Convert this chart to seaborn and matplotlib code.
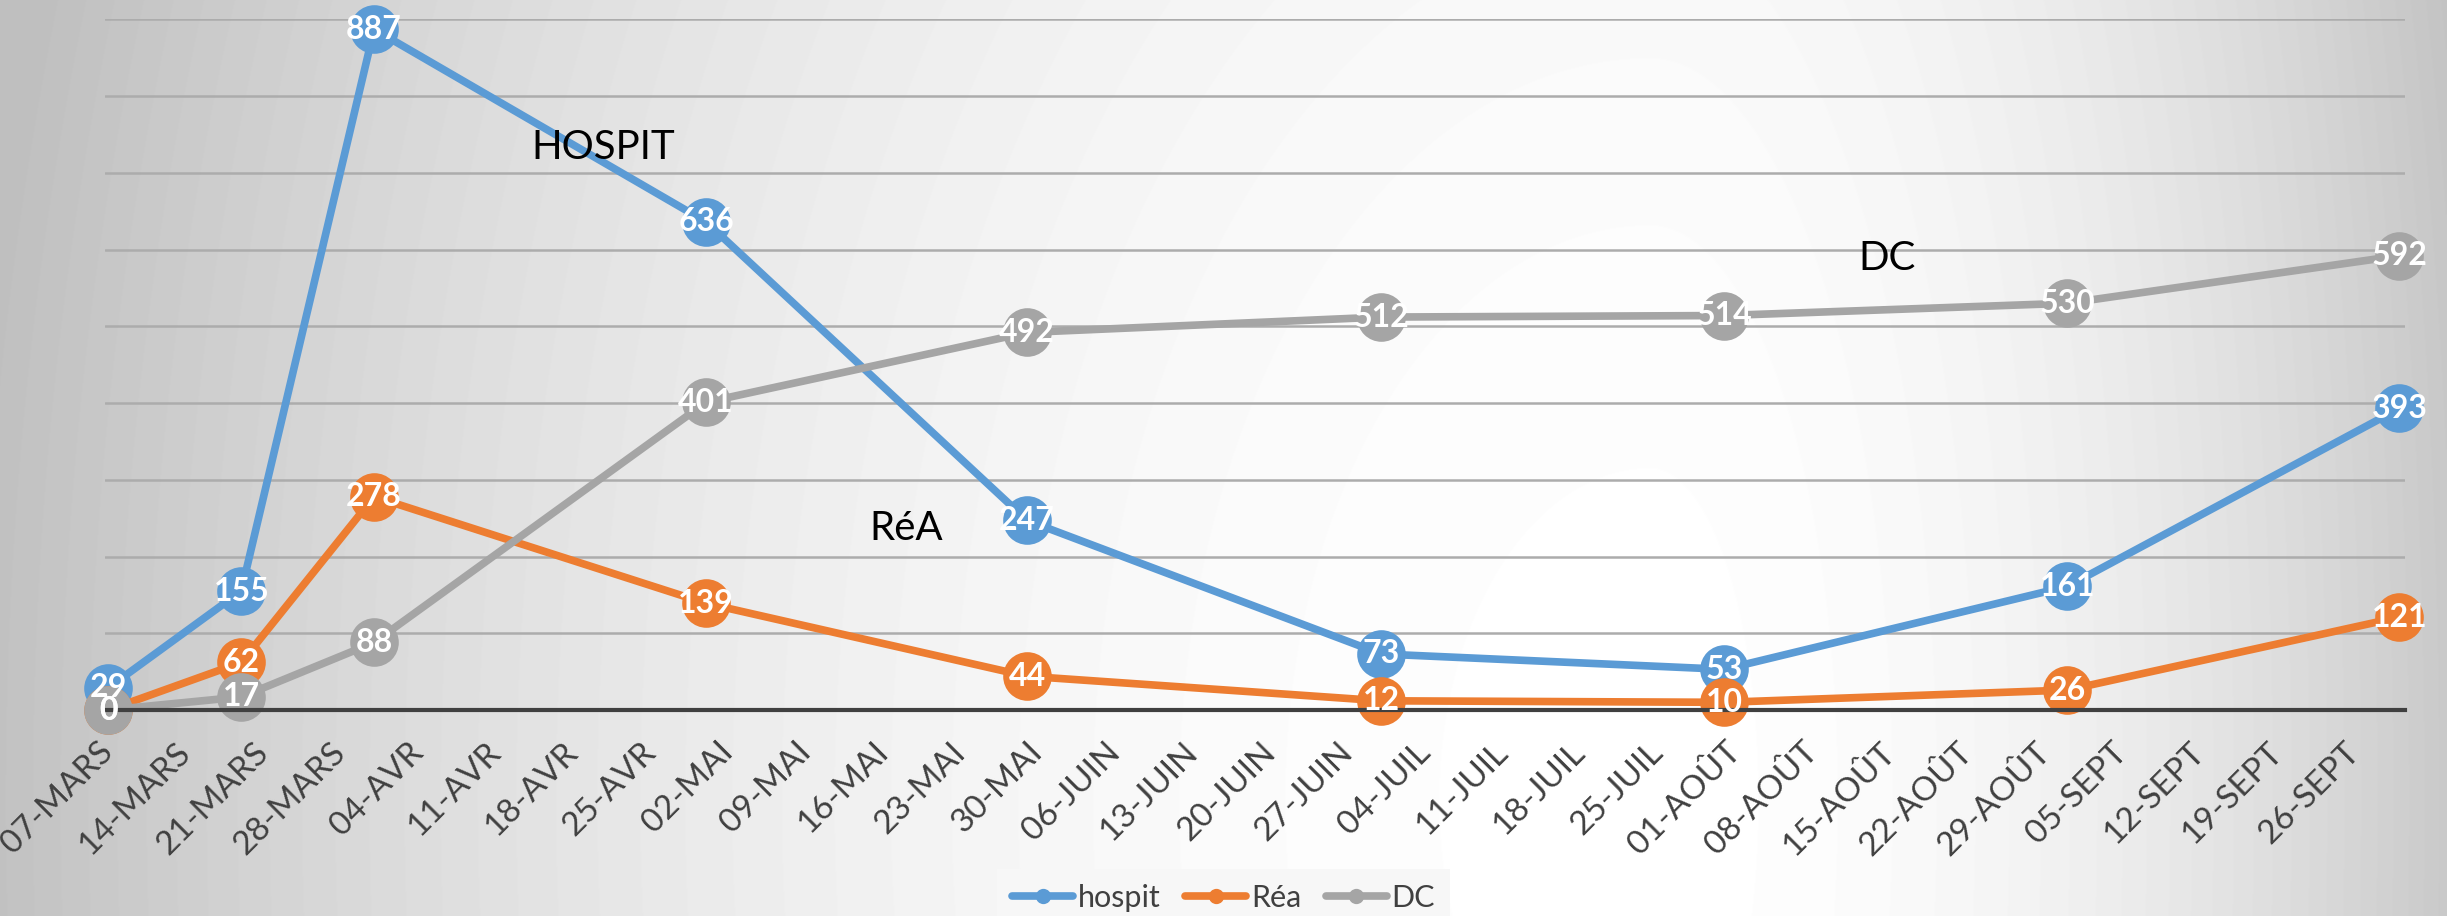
import numpy as np
import pandas as pd
import matplotlib.pyplot as plt
import matplotlib.dates as mdates
import seaborn as sns

# données
dates = ["2020-03-07", "2020-03-19", "2020-03-31", "2020-04-30", "2020-05-29",
         "2020-06-30", "2020-07-31", "2020-08-31", "2020-09-30"]
hospit = [29, 155, 887, 636, 247, 73, 53, 161, 393]
rea = [0, 62, 278, 139, 44, 12, 10, 26, 121]
dc = [0, 17, 88, 401, 492, 512, 514, 530, 592]

tick_labels = ["07-MARS", "14-MARS", "21-MARS", "28-MARS", "04-AVR", "11-AVR", "18-AVR",
               "25-AVR", "02-MAI", "09-MAI", "16-MAI", "23-MAI", "30-MAI", "06-JUIN",
               "13-JUIN", "20-JUIN", "27-JUIN", "04-JUIL", "11-JUIL", "18-JUIL", "25-JUIL",
               "01-AOÛT", "08-AOÛT", "15-AOÛT", "22-AOÛT", "29-AOÛT", "05-SEPT", "12-SEPT",
               "19-SEPT", "26-SEPT"]

series = [("hospit", hospit, "#5b9bd5"), ("Réa", rea, "#ed7d31"), ("DC", dc, "#a5a5a5")]

sns.set_theme(style="white")
plt.rcParams["font.family"] = ["Lato", "DejaVu Sans"]

W, H = 2447, 916
fig = plt.figure(figsize=(W / 100, H / 100), dpi=100)

# fond en dégradé radial (blanc au centre, gris sur les bords)
bg = fig.add_axes([0, 0, 1, 1], zorder=-1)
xx, yy = np.meshgrid(np.arange(W), np.arange(H))
cx, cy = 1650, 800
rx = np.where(xx < cx, 1650, 850)
r2 = ((xx - cx) / rx) ** 2 + ((yy - cy) / 2600) ** 2
grad = np.clip(1 - 0.24 * r2, 0.75, 1)
bg.imshow(grad, cmap="gray", vmin=0, vmax=1, aspect="auto")
bg.axis("off")

ax = fig.add_axes([104.6 / W, 1 - 710 / H, (2405 - 104.6) / W, (710 - 19.3) / H])
ax.set_facecolor("none")

x = pd.to_datetime(dates)
for name, vals, col in series:
    sns.lineplot(x=x, y=vals, ax=ax, color=col, linewidth=5.5, marker="o",
                 markersize=35, markeredgewidth=0, label=name, clip_on=False)

for name, vals, col in series:
    for d, v in zip(x, vals):
        ax.text(mdates.date2num(d), v, str(v), color="white", fontsize=23,
                fontweight="bold", ha="center", va="center", zorder=10)

ax.set_ylim(0, 900)
ax.set_yticks(range(0, 901, 100))
ax.set_yticklabels([])
ax.tick_params(axis="y", length=0)
ax.yaxis.grid(True, color="#acacac", linewidth=1.8)
ax.set_axisbelow(True)

tick_dates = pd.date_range(dates[0], periods=len(tick_labels), freq="7D")
ax.set_xticks(mdates.date2num(tick_dates))
ax.set_xticklabels(tick_labels)
ax.set_xlim(mdates.date2num(x[0]) - 0.35, mdates.date2num(x[-1]) + 0.5)
ax.tick_params(axis="x", length=0, pad=27, labelsize=24, labelcolor="#404040")
plt.setp(ax.get_xticklabels(), rotation=45, ha="right", va="center", rotation_mode="anchor")
ax.set_xlabel("")
ax.set_ylabel("")

for s in ["top", "left", "right"]:
    ax.spines[s].set_visible(False)
ax.spines["bottom"].set_color("#404040")
ax.spines["bottom"].set_linewidth(3)

ax.text(0.2167, 0.815, "HOSPIT", transform=ax.transAxes, fontsize=29, ha="center", va="center", color="black")
ax.text(0.7748, 0.654, "DC", transform=ax.transAxes, fontsize=29, ha="center", va="center", color="black")
ax.text(0.3484, 0.2635, "RéA", transform=ax.transAxes, fontsize=29, ha="center", va="center", color="black")

leg = ax.legend(loc="center", bbox_to_anchor=(0.5, 1 - 898 / H), bbox_transform=fig.transFigure,
                ncol=3, frameon=True, fontsize=22, handlelength=2.0, handletextpad=0.15,
                columnspacing=0.8, fancybox=False, framealpha=1, borderpad=0.5)
leg.get_frame().set_facecolor("#f7f7f7")
leg.get_frame().set_edgecolor("none")
for t in leg.get_texts():
    t.set_color("#404040")
for h in leg.legend_handles:
    h.set_markersize(11)
    h.set_linewidth(5.5)

fig.savefig("out.png", dpi=100)
